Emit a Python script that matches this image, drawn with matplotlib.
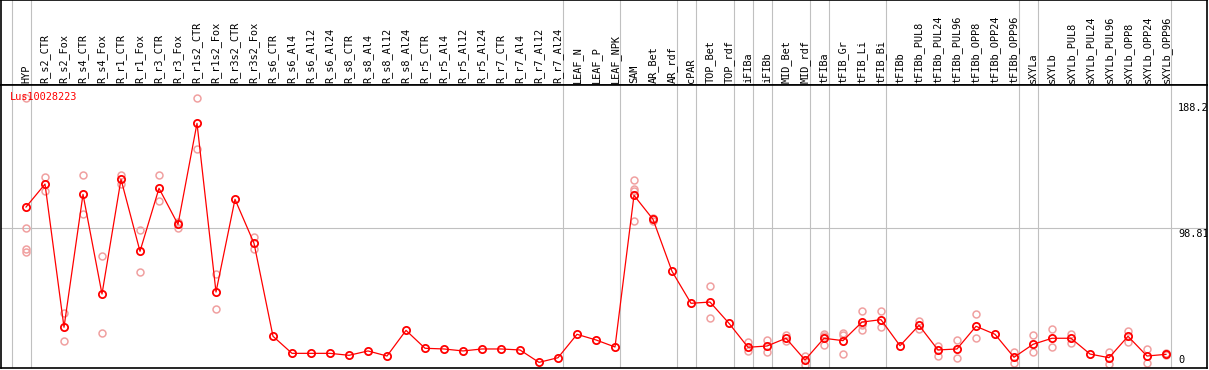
import numpy as np
import matplotlib
matplotlib.use("Agg")
import matplotlib.pyplot as plt

# category labels (one per sample)
labels = ["HYP", "R_s2_CTR", "R_s2_Fox", "R_s4_CTR", "R_s4_Fox", "R_r1_CTR", "R_r1_Fox",
          "R_r3_CTR", "R_r3_Fox", "R_r1s2_CTR", "R_r1s2_Fox", "R_r3s2_CTR", "R_r3s2_Fox",
          "R_s6_CTR", "R_s6_Al4", "R_s6_Al12", "R_s6_Al24", "R_s8_CTR", "R_s8_Al4",
          "R_s8_Al12", "R_s8_Al24", "R_r5_CTR", "R_r5_Al4", "R_r5_Al12", "R_r5_Al24",
          "R_r7_CTR", "R_r7_Al4", "R_r7_Al12", "R_r7_Al24", "LEAF_N", "LEAF_P", "LEAF_NPK",
          "SAM", "AR_Bet", "AR_rdf", "cPAR", "TOP_Bet", "TOP_rdf", "iFIBa", "iFIBb",
          "MID_Bet", "MID_rdf", "tFIBa", "tFIB_Gr", "tFIB_Li", "tFIB_Bi", "tFIBb",
          "tFIBb_PUL8", "tFIBb_PUL24", "tFIBb_PUL96", "tFIBb_OPP8", "tFIBb_OPP24",
          "tFIBb_OPP96", "sXYLa", "sXYLb", "sXYLb_PUL8", "sXYLb_PUL24", "sXYLb_PUL96",
          "sXYLb_OPP8", "sXYLb_OPP24", "sXYLb_OPP96"]

# mean expression per sample
means = [113.7, 130.0, 28.4, 122.7, 52.0, 133.4, 82.3, 127.0, 101.4, 173.1, 53.4, 119.2, 88.0,
         22.0, 9.9, 9.9, 9.9, 8.5, 11.6, 8.0, 26.2, 13.5, 13.0, 11.6, 13.0, 13.0, 12.3, 3.5, 6.8,
         23.4, 19.4, 14.4, 122.0, 105.0, 68.1, 45.4, 46.3, 31.2, 14.2, 15.1, 20.6, 5.2, 20.6,
         18.9, 32.1, 33.8, 15.3, 29.8, 12.3, 13.0, 29.1, 23.4, 7.1, 16.3, 20.6, 20.6, 9.4, 6.8,
         22.0, 8.0, 9.2]

# replicate values (empty where none are visible)
reps = [[190.8, 98.6, 83.7, 81.8], [134.8, 124.9], [38.7, 18.7], [136.2, 108.8], [79.0, 24.1],
        [136.4, 130.0], [97.2, 67.6], [136.2, 117.8], [103.3, 99.0], [190.8, 154.7], [66.0, 41.4],
        [], [92.4, 84.1],
        [], [], [], [], [], [], [], [], [], [], [], [], [], [], [], [], [], [], [],
        [132.9, 126.5, 125.0, 103.8], [106.0, 104.0], [], [], [57.5, 34.8], [],
        [17.9, 11.3], [19.4, 10.6], [22.9, 18.9], [8.2, 1.6], [23.4, 22.2, 15.8],
        [24.5, 23.0, 9.2], [39.7, 30.0, 26.5], [39.7, 28.8], [],
        [32.6, 27.2], [15.3, 8.2], [19.2, 6.6], [37.6, 20.6], [], [11.1, 2.8],
        [22.7, 10.6], [27.2, 14.4], [23.4, 17.5], [], [10.6, 2.6], [26.0, 17.9],
        [13.0, 2.8], [10.0, 8.4]]

# index of last sample before each group separator
group_ends = [-1, 0, 28, 31, 34, 35, 37, 38, 39, 41, 42, 45, 52, 53, 60]

ytick_vals = [0, 98.81, 188.2]
ytick_text = ["0", "98.81", "188.2"]
title = "Lus10028223"

W, H = 1209, 370
fig = plt.figure(figsize=(W / 100, H / 100), dpi=100)
fig.patch.set_facecolor("white")

left_px, right_px = 1, 1207
head_top, head_bot = 0, 85
plot_bot = 368

def px_box(x0, y0, x1, y1):
    return [x0 / W, 1 - y1 / H, (x1 - x0) / W, (y1 - y0) / H]

# x in category units: sample i sits at 26 + 19*i px
xmin = (left_px - 26) / 19.0
xmax = (right_px - 26) / 19.0

head = fig.add_axes(px_box(left_px, head_top, right_px, head_bot))
ax = fig.add_axes(px_box(left_px, head_bot, right_px, plot_bot))

mono = "DejaVu Sans Mono"
fs = 7.4

for a in (head, ax):
    a.set_xlim(xmin, xmax)
    a.set_xticks([])
    a.set_yticks([])
    for s in a.spines.values():
        s.set_color("black")
        s.set_linewidth(1.2)
    for k in group_ends:
        a.axvline(k + 4.5 / 19.0, color="#c0c0c0", linewidth=0.8, zorder=1)

head.set_ylim(0, 85)
for i, lab in enumerate(labels):
    head.text(i, 2, lab, rotation=90, ha="center", va="bottom",
              fontsize=fs, family=mono, color="black")

ax.set_ylim(-0.5, 200.3)
ax.axhline(98.81, color="#c0c0c0", linewidth=0.8, zorder=1)

# replicates
for i, vals in enumerate(reps):
    if vals:
        ax.plot([i] * len(vals), vals, linestyle="none", marker="o", markersize=5,
                markerfacecolor="none", markeredgecolor="#f0a0a0", markeredgewidth=1.1, zorder=2)

# means
x = np.arange(len(means))
ax.plot(x, means, color="red", linewidth=0.9, marker="o", markersize=5.2,
        markerfacecolor="none", markeredgecolor="red", markeredgewidth=1.3, zorder=3)

# y value labels inside the frame
lab_x = (1178 - 26) / 19.0
for v, t in zip(ytick_vals, ytick_text):
    if v == 0:
        ax.text(lab_x, 1.5, t, ha="left", va="bottom", fontsize=fs, family=mono, clip_on=True)
    else:
        ax.text(lab_x, v - 0.8, t, ha="left", va="top", fontsize=fs, family=mono, clip_on=True)

ax.text(0.007, 0.975, title, transform=ax.transAxes, ha="left", va="top",
        fontsize=fs, family=mono, color="red", zorder=4)

fig.savefig("out.png", dpi=100)
